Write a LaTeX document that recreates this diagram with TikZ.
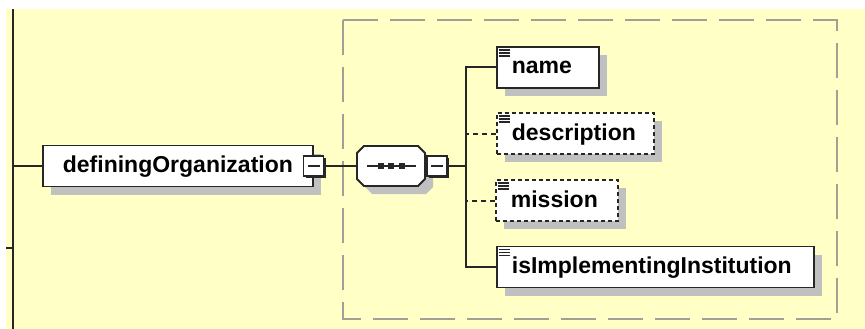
\documentclass[tikz,border=0pt]{standalone}
\usepackage{fontspec}
\newfontfamily\elemfont{Liberation Sans}
\usetikzlibrary{shadows}
\definecolor{bgyellow}{RGB}{255,255,198}
\definecolor{framegray}{RGB}{160,160,150}
\definecolor{shadowgray}{RGB}{192,192,192}
\tikzset{
  boxbase/.style={draw=black!85, fill=white, line width=1.8pt, anchor=west,
    minimum height=41pt, inner xsep=15pt, inner ysep=0pt,
    text height=18pt, text depth=5pt, align=left,
    font=\elemfont\bfseries\fontsize{23}{26}\selectfont,
    drop shadow={shadow xshift=8pt, shadow yshift=-8pt, fill=shadowgray, opacity=1}},
  elem/.style={boxbase,
    path picture={
      \draw[solid, line width=1.1pt]
        ([shift={(2pt,-3pt)}]path picture bounding box.north west) -- ++(11pt,0pt)
        ([shift={(2pt,-6pt)}]path picture bounding box.north west) -- ++(11pt,0pt)
        ([shift={(2pt,-9pt)}]path picture bounding box.north west) -- ++(11pt,0pt);}},
  optelem/.style={elem, dash pattern=on 4pt off 3pt},
  minusbox/.style={draw=black!85, fill=white, line width=1.3pt,
    minimum width=20pt, minimum height=20pt, inner sep=0pt,
    drop shadow={shadow xshift=2.2pt, shadow yshift=-2.2pt, fill=black!85, opacity=1},
    path picture={\draw[line width=1.3pt] ([xshift=4pt]path picture bounding box.west) -- ([xshift=-4pt]path picture bounding box.east);}},
  seqbox/.style={minimum width=68pt, minimum height=40pt, inner sep=0pt},
  seqoutline/.style={insert path={(364,146) -- (418,146) -- (425,153) -- (425,179)
    -- (418,186) -- (364,186) -- (357,179) -- (357,153) -- cycle}}
}
\begin{document}
\begin{tikzpicture}[x=1pt,y=-1pt]
  \useasboundingbox (0,0) rectangle (865,329);
  \fill[bgyellow] (6,9) rectangle (865,329);
  \draw[framegray, line width=1.8pt, dash pattern=on 35pt off 12pt] (343,20) rectangle (837,319);

  \coordinate (bustop) at (13,9);
  \coordinate (busbot) at (13,329);
  \coordinate (bus) at (13,166);
  \coordinate (tick) at (6,248);
  \coordinate (hub) at (466,166);

  \node[boxbase, text width=230pt, align=center, inner xsep=20pt] (def) at (42,166) {definingOrganization};
  \node[minusbox] (defm) at (def.east) {};

  \fill[shadowgray, shift={(8,8)}, seqoutline];
  \draw[draw=black!85, fill=white, line width=1.8pt, seqoutline];
  \node[seqbox] (seq) at (391,166) {};
  \draw[line width=1.8pt, black!85] ([xshift=-24pt]seq.center) -- ([xshift=25pt]seq.center);
  \foreach \dx in {-10,0,11}
    \fill[black!85] ([xshift=\dx pt]seq.center) +(-2.6,-2.6) rectangle +(2.6,2.6);
  \node[minusbox, anchor=west] (seqm) at ([xshift=1pt]seq.east) {};

  \node[elem, text width=72pt] (name) at (496,67.5) {name};
  \node[optelem, text width=127pt] (desc) at (496,133.5) {description};
  \node[optelem, text width=92pt] (mission) at (495,200.5) {mission};
  \node[elem, text width=287pt] (impl) at (496,267) {isImplementingInstitution};

  \begin{scope}[line width=2pt, draw=black!85]
    \draw (bustop) -- (busbot);
    \draw (tick) -- (tick -| bustop);
    \draw (bus) -- (def.west);
    \draw (defm.east) -- (seq.west);
    \draw (seqm.east) -- (hub);
    \draw (name.west) -| (hub);
    \draw (impl.west) -| (hub);
    \draw[dash pattern=on 5pt off 4pt] (desc.west) -- (desc.west -| hub);
    \draw[dash pattern=on 5pt off 4pt] (mission.west) -- (mission.west -| hub);
  \end{scope}
\end{tikzpicture}
\end{document}
